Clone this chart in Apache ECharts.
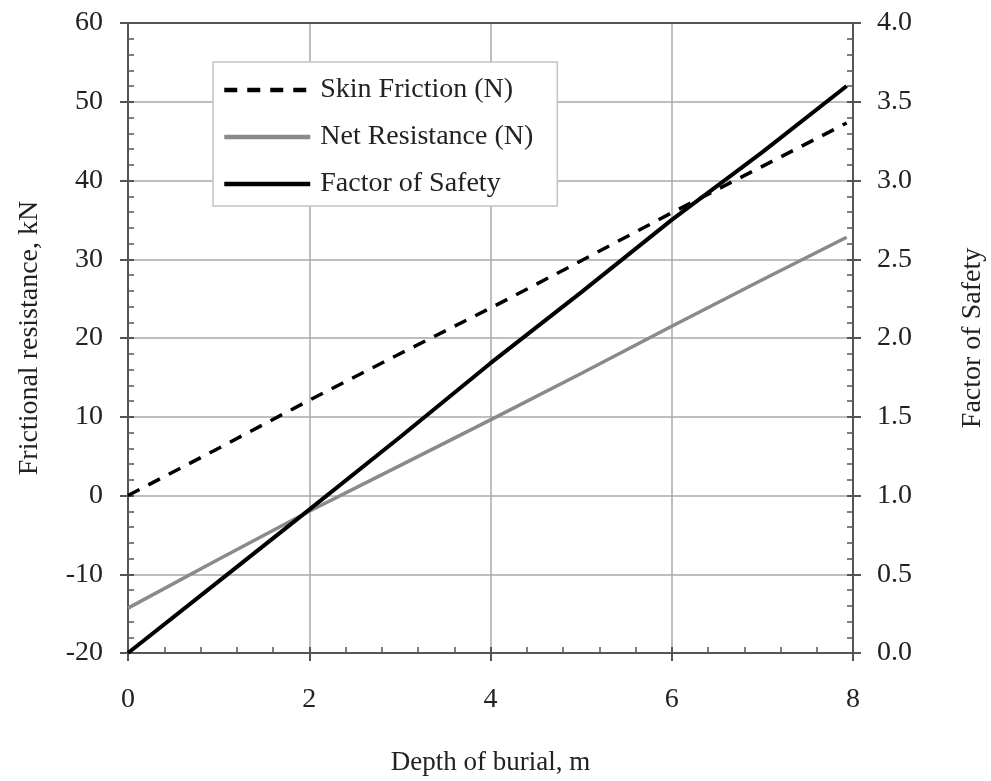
<!DOCTYPE html>
<html><head><meta charset="utf-8">
<script src="https://cdn.jsdelivr.net/npm/echarts@6/dist/echarts.min.js"></script>
<style>html,body{margin:0;padding:0;background:#fff}#c{width:991px;height:781px}</style>
</head><body><div id="c"></div>
<script>
const depth = [0, 1, 2, 3, 4, 5, 6, 7, 7.93];
const skinFriction = [0, 6.0, 12.1, 18.0, 23.8, 29.8, 35.9, 41.8, 47.3];
const netResistance = [-14.3, -8.1, -2.0, 3.8, 9.6, 15.5, 21.5, 27.4, 32.8];
const factorOfSafety = [0, 0.455, 0.91, 1.37, 1.84, 2.29, 2.75, 3.18, 3.6];
const seriesNames = ['Skin Friction (N)', 'Net Resistance (N)', 'Factor of Safety'];

const FONT = 'Liberation Serif';
const FS = 28;
const TXT = '#222';
const AXC = '#555';
const GRIDC = '#a8a8a8';
const pairs = (xs, ys) => xs.map((x, i) => [x, ys[i]]);

const baseX = {type: 'value', min: 0, max: 8, interval: 2, gridIndex: 0};
const baseYL = {type: 'value', min: -20, max: 60, interval: 10};
const baseYR = {type: 'value', min: 0, max: 4, interval: 0.5};

const chart = echarts.init(document.getElementById('c'));
chart.setOption({
  animation: false,
  backgroundColor: '#fff',
  textStyle: {fontFamily: FONT},
  grid: {left: 128, right: 138, top: 23, bottom: 128, containLabel: false, outerBoundsMode: 'none'},
  legend: {
    orient: 'vertical', left: 213, top: 62,
    backgroundColor: '#fff', borderColor: '#c4c4c4', borderWidth: 1.5,
    padding: [14, 24, 8, 9], itemGap: 19,
    itemWidth: 86, itemHeight: 14,
    itemStyle: {opacity: 0},
    lineStyle: {width: 4.5},
    textStyle: {fontFamily: FONT, fontSize: FS, color: TXT, padding: [0, 0, 0, 5]},
    data: seriesNames,
    z: 10
  },
  xAxis: [
    Object.assign({}, baseX, {
      position: 'bottom',
      name: 'Depth of burial, m', nameLocation: 'middle', nameGap: 96,
      nameTextStyle: {fontFamily: FONT, fontSize: 27, color: TXT},
      axisLine: {onZero: false, lineStyle: {color: AXC, width: 2}},
      axisTick: {show: true, inside: false, length: 8, lineStyle: {color: AXC, width: 2}},
      axisLabel: {fontFamily: FONT, fontSize: FS, color: TXT, margin: 33},
      splitLine: {show: true, lineStyle: {color: GRIDC, width: 1.5}}
    }),
    Object.assign({}, baseX, {
      position: 'bottom',
      axisLine: {show: false, onZero: false},
      axisTick: {show: true, inside: true, length: 6, lineStyle: {color: AXC, width: 2}},
      minorTick: {show: true, splitNumber: 5, length: 6, lineStyle: {color: AXC, width: 1.5}},
      axisLabel: {show: false},
      splitLine: {show: false}
    }),
    Object.assign({}, baseX, {
      position: 'top',
      axisLine: {show: true, onZero: false, lineStyle: {color: AXC, width: 2}},
      axisTick: {show: false}, axisLabel: {show: false}, splitLine: {show: false}
    })
  ],
  yAxis: [
    Object.assign({}, baseYL, {
      position: 'left',
      name: 'Frictional resistance, kN', nameLocation: 'middle', nameGap: 84, nameRotate: 90,
      nameTextStyle: {fontFamily: FONT, fontSize: FS, color: TXT},
      axisLine: {show: true, onZero: false, lineStyle: {color: AXC, width: 2}},
      axisTick: {show: true, inside: false, length: 8, lineStyle: {color: AXC, width: 2}},
      axisLabel: {fontFamily: FONT, fontSize: FS, color: TXT, margin: 25},
      splitLine: {show: true, lineStyle: {color: GRIDC, width: 1.5}}
    }),
    Object.assign({}, baseYR, {
      position: 'right',
      name: 'Factor of Safety', nameLocation: 'middle', nameGap: 106, nameRotate: 90,
      nameTextStyle: {fontFamily: FONT, fontSize: FS, color: TXT},
      axisLine: {show: true, onZero: false, lineStyle: {color: AXC, width: 2}},
      axisTick: {show: true, inside: false, length: 8, lineStyle: {color: AXC, width: 2}},
      axisLabel: {fontFamily: FONT, fontSize: FS, color: TXT, margin: 24,
        formatter: v => v.toFixed(1)},
      splitLine: {show: false}
    }),
    Object.assign({}, baseYL, {
      position: 'left',
      axisLine: {show: false, onZero: false},
      axisTick: {show: true, inside: true, length: 6, lineStyle: {color: AXC, width: 2}},
      minorTick: {show: true, splitNumber: 5, length: 6, lineStyle: {color: AXC, width: 1.5}},
      axisLabel: {show: false}, splitLine: {show: false}
    }),
    Object.assign({}, baseYR, {
      position: 'right',
      axisLine: {show: false, onZero: false},
      axisTick: {show: true, inside: true, length: 6, lineStyle: {color: AXC, width: 2}},
      minorTick: {show: true, splitNumber: 5, length: 6, lineStyle: {color: AXC, width: 1.5}},
      axisLabel: {show: false}, splitLine: {show: false}
    })
  ],
  series: [
    {
      name: seriesNames[0], type: 'line', xAxisIndex: 0, yAxisIndex: 0,
      data: pairs(depth, skinFriction), symbol: 'none', silent: true,
      lineStyle: {color: '#000', width: 3.5, type: [13, 10]}, itemStyle: {color: '#000'}, z: 3
    },
    {
      name: seriesNames[1], type: 'line', xAxisIndex: 0, yAxisIndex: 0,
      data: pairs(depth, netResistance), symbol: 'none', silent: true,
      lineStyle: {color: '#8a8a8a', width: 3.5}, itemStyle: {color: '#8a8a8a'}, z: 3
    },
    {
      name: seriesNames[2], type: 'line', xAxisIndex: 0, yAxisIndex: 1,
      data: pairs(depth, factorOfSafety), symbol: 'none', silent: true,
      lineStyle: {color: '#000', width: 4}, itemStyle: {color: '#000'}, z: 4
    }
  ]
});
</script>
</body></html>
